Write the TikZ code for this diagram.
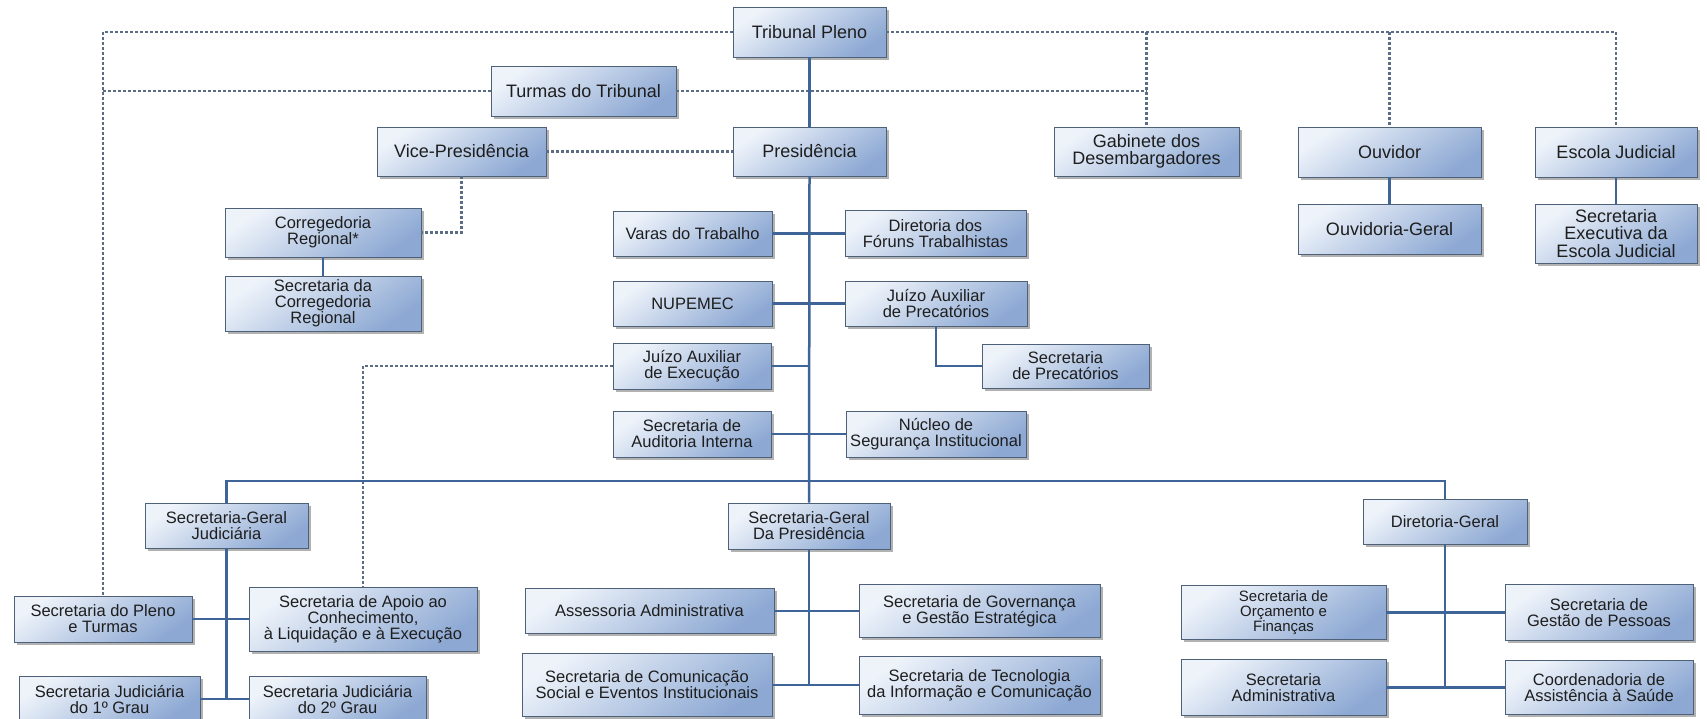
\documentclass[tikz,border=0pt]{standalone}
\usepackage{fontspec}
\setmainfont{Liberation Sans}
\usepackage{tikz}
\usetikzlibrary{shadows}

\definecolor{boxlight}{HTML}{EEF3FA}
\definecolor{boxdark}{HTML}{8CA8D3}
\definecolor{boxline}{HTML}{4F6079}
\definecolor{linkblue}{HTML}{3F6498}
\definecolor{dotgray}{HTML}{5B6C85}
\definecolor{txtdark}{HTML}{1E1E1E}

\tikzset{
	orgbox/.style={draw=boxline, line width=0.9pt, top color=boxlight, bottom color=boxdark, shading angle=35,
		drop shadow={shadow xshift=2.5pt, shadow yshift=-2.5pt, fill=black!55, opacity=0.55},
		text=txtdark, align=center, inner sep=0pt},
	wh/.style 2 args={minimum width=#1pt, minimum height=#2pt},
	bigtxt/.style={font=\fontsize{18}{17.5}\selectfont},
	midtxt/.style={font=\fontsize{16.5}{16}\selectfont},
	smalltxt/.style={font=\fontsize{15}{15}\selectfont},
	link/.style={draw=linkblue, line width=2.5pt},
	dotline/.style={draw=dotgray, line width=2.2pt, dash pattern=on 2.5pt off 2.5pt},
}

\begin{document}
\begin{tikzpicture}[x=1pt, y=-1pt]
			\useasboundingbox (0,0) rectangle (1707,718);
			\fill[white] (0,0) rectangle (1707,718);
			\clip (0,0) rectangle (1707,718);
			
			% upper part
			\node[orgbox, bigtxt, wh={153}{50}] (tp) at (809.5,32) {Tribunal Pleno};
			\node[orgbox, bigtxt, wh={185}{50}] (turmas) at (583.5,91) {Turmas do Tribunal};
			\node[orgbox, bigtxt, wh={169}{49}] (vp) at (461.5,151.5) {Vice-Presidência};
			\node[orgbox, bigtxt, wh={153}{49}] (pres) at (809.5,151.5) {Presidência};
			\node[orgbox, bigtxt, wh={185}{49}] (gab) at (1146.5,151.5) {Gabinete dos\\Desembargadores};
			\node[orgbox, bigtxt, wh={183}{50}] (ouv) at (1389.5,152) {Ouvidor};
			\node[orgbox, bigtxt, wh={162}{50}] (escola) at (1616,152) {Escola Judicial};
			\node[orgbox, bigtxt, wh={183}{50}] (ouvg) at (1389.5,229) {Ouvidoria-Geral};
			\node[orgbox, bigtxt, wh={162}{59}] (sexec) at (1616,233.5) {Secretaria\\Executiva da\\Escola Judicial};
			
			\node[orgbox, midtxt, wh={196}{49}] (correg) at (323,232.5) {Corregedoria\\Regional*};
			\node[orgbox, midtxt, wh={196}{55}] (scorreg) at (323,303.5) {Secretaria da\\Corregedoria\\Regional};
			\node[orgbox, midtxt, wh={159}{45}] (varas) at (692.5,233.5) {Varas do Trabalho};
			\node[orgbox, midtxt, wh={181}{46}] (dirfor) at (935.5,233.5) {Diretoria dos\\Fóruns Trabalhistas};
			\node[orgbox, midtxt, wh={159}{45}] (nupemec) at (692.5,303.5) {NUPEMEC};
			\node[orgbox, midtxt, wh={182}{45}] (jprec) at (936,303.5) {Juízo Auxiliar\\de Precatórios};
			\node[orgbox, midtxt, wh={167}{44}] (sprec) at (1065.5,366) {Secretaria\\de Precatórios};
			\node[orgbox, midtxt, wh={158}{46}] (jexec) at (692,366) {Juízo Auxiliar\\de Execução};
			\node[orgbox, midtxt, wh={158}{46}] (audit) at (692,434) {Secretaria de\\Auditoria Interna};
			\node[orgbox, midtxt, wh={180}{46}] (nucleo) at (936,434) {Núcleo de\\Segurança Institucional};
			
			% lower part
			\node[orgbox, midtxt, wh={163}{45}] (sgj) at (226.5,525.5) {Secretaria-Geral\\Judiciária};
			\node[orgbox, midtxt, wh={162}{46}] (sgp) at (809,526) {Secretaria-Geral\\Da Presidência};
			\node[orgbox, midtxt, wh={164}{45}] (dg) at (1445,522) {Diretoria-Geral};
			\node[orgbox, midtxt, wh={178}{46}] (spleno) at (103,619) {Secretaria do Pleno\\e Turmas};
			\node[orgbox, midtxt, wh={228}{64}] (apoio) at (363,619) {Secretaria de Apoio ao\\Conhecimento,\\à Liquidação e à Execução};
			\node[orgbox, midtxt, wh={181}{46}] (sj1) at (109.5,699) {Secretaria Judiciária\\do 1º Grau};
			\node[orgbox, midtxt, wh={177}{46}] (sj2) at (337.5,699) {Secretaria Judiciária\\do 2º Grau};
			\node[orgbox, midtxt, wh={249}{45}] (assess) at (649.5,611) {Assessoria Administrativa};
			\node[orgbox, midtxt, wh={241}{53}] (gov) at (979.5,611) {Secretaria de Governança\\e Gestão Estratégica};
			\node[orgbox, midtxt, wh={250}{63}] (comun) at (647,685) {Secretaria de Comunicação\\Social e Eventos Institucionais};
			\node[orgbox, midtxt, wh={241}{58}] (tec) at (979.5,685) {Secretaria de Tecnologia\\da Informação e Comunicação};
			\node[orgbox, smalltxt, wh={205}{54}] (sorc) at (1283.5,612.5) {Secretaria de\\Orçamento e\\Finanças};
			\node[orgbox, midtxt, wh={188}{56}] (sgpes) at (1599,612.5) {Secretaria de\\Gestão de Pessoas};
			\node[orgbox, midtxt, wh={205}{56}] (sadm) at (1283.5,687.5) {Secretaria\\Administrativa};
			\node[orgbox, midtxt, wh={188}{54}] (coord) at (1599,687.5) {Coordenadoria de\\Assistência à Saúde};
			
			\coordinate (bus) at (809.5,481);
			
			% dotted links
			\draw[dotline] (tp.west) -| (spleno.north);
			\draw[dotline] (turmas.west) -- (turmas.west -| spleno.north);
			\draw[dotline] (tp.east) -| (escola.north);
			\draw[dotline] (tp.east -| gab.north) -- (gab.north);
			\draw[dotline] (tp.east -| ouv.north) -- (ouv.north);
			\draw[dotline] (turmas.east) -- (turmas.east -| gab.north);
			\draw[dotline] (vp.east) -- (pres.west);
			\draw[dotline] (vp.south) |- (correg.east);
			\draw[dotline] (jexec.west) -| (apoio.north);
			
			% solid links
			\draw[link] (tp.south) -- (pres.north);
			\draw[link] (pres.south) -- (sgp.north);
			\draw[link] (ouv.south) -- (ouvg.north);
			\draw[link] (escola.south) -- (sexec.north);
			\draw[link] (correg.south) -- (scorreg.north);
			\draw[link] (varas.east) -- (dirfor.west);
			\draw[link] (nupemec.east) -- (jprec.west);
			\draw[link] (jprec.south) |- (sprec.west);
			\draw[link] (jexec.east) -- (jexec.east -| bus);
			\draw[link] (audit.east) -- (nucleo.west);
			\draw[link] (sgj.north) |- (bus) -| (dg.north);
			
			\draw[link] (sgj.south) -- (sgj.south |- sj1.east);
			\draw[link] (spleno.east) -- (apoio.west);
			\draw[link] (sj1.east) -- (sj2.west);
			\draw[link] (sgp.south) -- (sgp.south |- tec.west);
			\draw[link] (assess.east) -- (gov.west);
			\draw[link] (comun.east) -- (tec.west);
			\draw[link] (dg.south) -- (dg.south |- coord.west);
			\draw[link] (sorc.east) -- (sgpes.west);
			\draw[link] (sadm.east) -- (coord.west);
\end{tikzpicture}
\end{document}
